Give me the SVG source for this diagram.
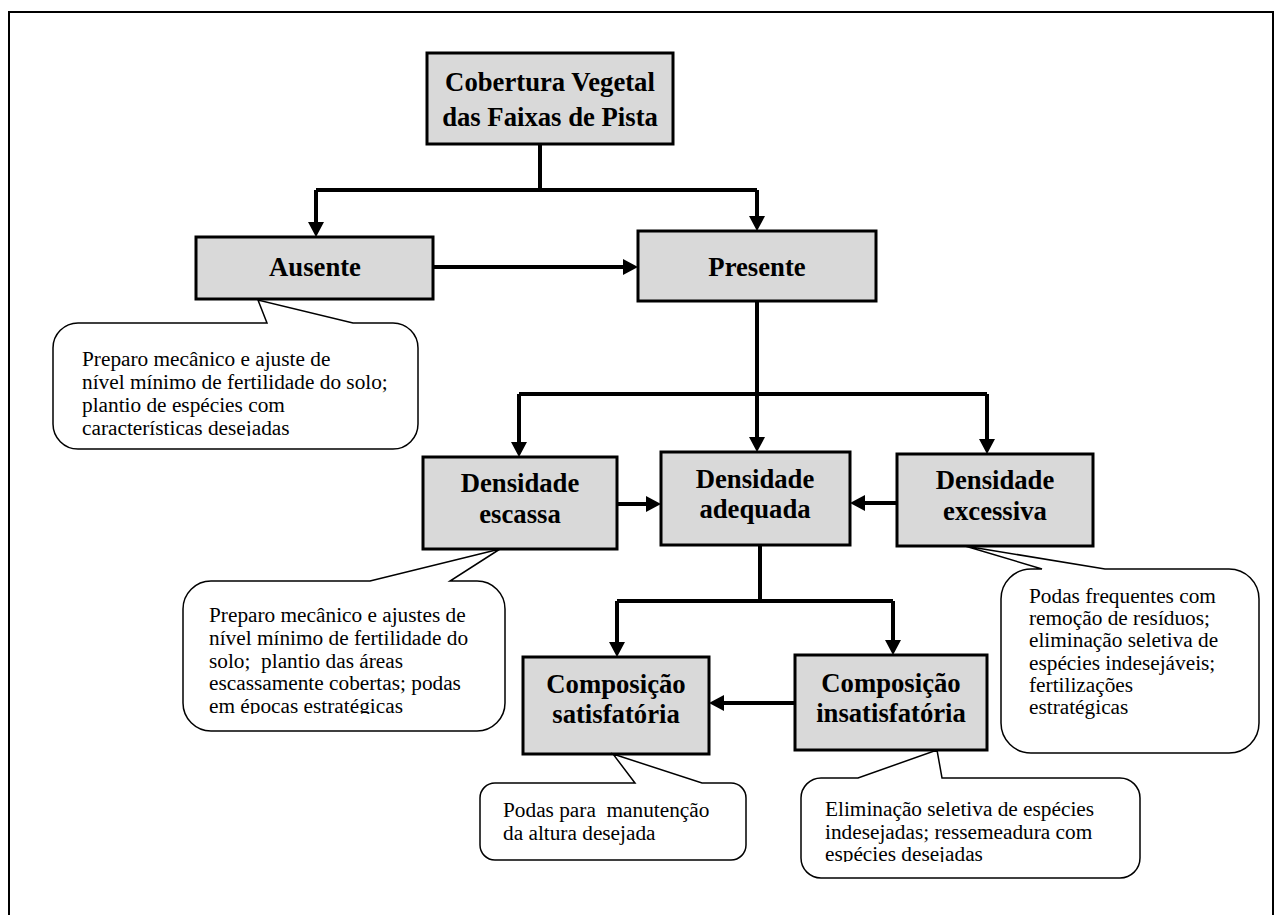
<svg xmlns="http://www.w3.org/2000/svg" width="1285" height="915" viewBox="0 0 1285 915">
<style>
.box{fill:#d9d9d9;stroke:#000;stroke-width:3}
.bt{font-family:"Liberation Serif","Times New Roman",serif;font-weight:bold;font-size:26.7px;text-anchor:middle;fill:#000}
.co{fill:#fff;stroke:#000;stroke-width:1.5;stroke-linejoin:miter}
.ct{font-family:"Liberation Serif","Times New Roman",serif;font-size:21.3px;fill:#000}
.ln{fill:none;stroke:#000;stroke-width:4}
</style>
<defs>
<marker id="ah" markerUnits="userSpaceOnUse" markerWidth="16" markerHeight="16" refX="3" refY="8" orient="auto">
<path d="M0,0 L15,8 L0,16 Z" fill="#000"/>
</marker>
<clipPath id="clipA"><rect x="40" y="300" width="400" height="136"/></clipPath>
<clipPath id="clipE"><rect x="170" y="560" width="350" height="154"/></clipPath>
<clipPath id="clipI"><rect x="790" y="760" width="360" height="102"/></clipPath>
</defs>
<rect x="9" y="12" width="1264" height="920" fill="none" stroke="#000" stroke-width="2"/>

<g id="connectors">
<path class="ln" d="M540,144 V190"/>
<path class="ln" d="M316,190 H757"/>
<path class="ln" d="M316,190 V225" marker-end="url(#ah)"/>
<path class="ln" d="M757,190 V219" marker-end="url(#ah)"/>
<path class="ln" d="M433,267 H626" marker-end="url(#ah)"/>
<path class="ln" d="M757,301 V440" marker-end="url(#ah)"/>
<path class="ln" d="M519,394 H987"/>
<path class="ln" d="M519,394 V445" marker-end="url(#ah)"/>
<path class="ln" d="M987,394 V442" marker-end="url(#ah)"/>
<path class="ln" d="M617,504 H649" marker-end="url(#ah)"/>
<path class="ln" d="M897,503 H862" marker-end="url(#ah)"/>
<path class="ln" d="M760,545 V601"/>
<path class="ln" d="M617,601 H893"/>
<path class="ln" d="M617,601 V645" marker-end="url(#ah)"/>
<path class="ln" d="M893,601 V643" marker-end="url(#ah)"/>
<path class="ln" d="M795,703 H721" marker-end="url(#ah)"/>
</g>

<g id="n-cobertura">
<rect class="box" x="427" y="53" width="246" height="91"/>
<text class="bt" x="550" y="91">Cobertura Vegetal</text>
<text class="bt" x="550" y="126">das Faixas de Pista</text>
</g>
<g id="n-ausente">
<rect class="box" x="196" y="237" width="237" height="62"/>
<text class="bt" x="315" y="276">Ausente</text>
</g>
<g id="n-presente">
<rect class="box" x="638" y="231" width="238" height="70"/>
<text class="bt" x="757" y="276">Presente</text>
</g>
<g id="n-escassa">
<rect class="box" x="423" y="457" width="194" height="92"/>
<text class="bt" x="520" y="492">Densidade</text>
<text class="bt" x="520" y="523">escassa</text>
</g>
<g id="n-adequada">
<rect class="box" x="661" y="452" width="189" height="93"/>
<text class="bt" x="755" y="488">Densidade</text>
<text class="bt" x="755" y="518">adequada</text>
</g>
<g id="n-excessiva">
<rect class="box" x="897" y="454" width="196" height="92"/>
<text class="bt" x="995" y="489">Densidade</text>
<text class="bt" x="995" y="520">excessiva</text>
</g>
<g id="n-satisfatoria">
<rect class="box" x="523" y="657" width="186" height="97"/>
<text class="bt" x="616" y="693">Composição</text>
<text class="bt" x="616" y="723">satisfatória</text>
</g>
<g id="n-insatisfatoria">
<rect class="box" x="795" y="655" width="192" height="95"/>
<text class="bt" x="891" y="692">Composição</text>
<text class="bt" x="891" y="722">insatisfatória</text>
</g>

<g id="c-ausente">
<path class="co" d="M78,323 H267 L258,300 L353,323 H393 A25,25 0 0 1 418,348 V424 A25,25 0 0 1 393,449 H78 A25,25 0 0 1 53,424 V348 A25,25 0 0 1 78,323 Z"/>
<g clip-path="url(#clipA)">
<text class="ct" x="82" y="366">Preparo mecânico e ajuste de</text>
<text class="ct" x="82" y="389">nível mínimo de fertilidade do solo;</text>
<text class="ct" x="82" y="412">plantio de espécies com</text>
<text class="ct" x="82" y="435">características desejadas</text>
</g>
</g>
<g id="c-escassa">
<path class="co" d="M211,581 H370 L500,549 L450,581 H477 A28,28 0 0 1 505,609 V703 A28,28 0 0 1 477,731 H211 A28,28 0 0 1 183,703 V609 A28,28 0 0 1 211,581 Z"/>
<g clip-path="url(#clipE)">
<text class="ct" x="209" y="622">Preparo mecânico e ajustes de</text>
<text class="ct" x="209" y="645">nível mínimo de fertilidade do</text>
<text class="ct" x="209" y="668" xml:space="preserve">solo;  plantio das áreas</text>
<text class="ct" x="209" y="690">escassamente cobertas; podas</text>
<text class="ct" x="209" y="713">em épocas estratégicas</text>
</g>
</g>
<g id="c-excessiva">
<path class="co" d="M1031,569 H1042 L965,546 L1105,569 H1229 A30,30 0 0 1 1259,599 V723 A30,30 0 0 1 1229,753 H1031 A30,30 0 0 1 1001,723 V599 A30,30 0 0 1 1031,569 Z"/>
<text class="ct" x="1029" y="603">Podas frequentes com</text>
<text class="ct" x="1029" y="625">remoção de resíduos;</text>
<text class="ct" x="1029" y="647">eliminação seletiva de</text>
<text class="ct" x="1029" y="670">espécies indesejáveis;</text>
<text class="ct" x="1029" y="692">fertilizações</text>
<text class="ct" x="1029" y="714">estratégicas</text>
</g>
<g id="c-satisfatoria">
<path class="co" d="M495,783 H635 L613,754 L702,783 H731 A15,15 0 0 1 746,798 V845 A15,15 0 0 1 731,860 H495 A15,15 0 0 1 480,845 V798 A15,15 0 0 1 495,783 Z"/>
<text class="ct" x="503" y="817" xml:space="preserve">Podas para  manutenção</text>
<text class="ct" x="503" y="840">da altura desejada</text>
</g>
<g id="c-insatisfatoria">
<path class="co" d="M821,778 H858 L937,750 L942,778 H1120 A20,20 0 0 1 1140,798 V858 A20,20 0 0 1 1120,878 H821 A20,20 0 0 1 801,858 V798 A20,20 0 0 1 821,778 Z"/>
<g clip-path="url(#clipI)">
<text class="ct" x="825" y="816">Eliminação seletiva de espécies</text>
<text class="ct" x="825" y="839">indesejadas; ressemeadura com</text>
<text class="ct" x="825" y="861">espécies desejadas</text>
</g>
</g>
</svg>
